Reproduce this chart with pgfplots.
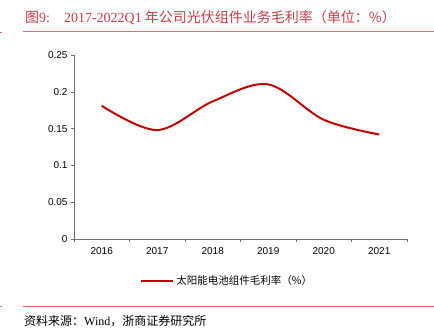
\documentclass[border=0pt]{standalone}
\usepackage{pgfplots}
\pgfplotsset{compat=1.18}
\usepackage{fontspec}
\setmainfont{Liberation Serif}
\newfontfamily\cjk{Noto Sans CJK SC}
\newfontfamily\arial{Liberation Sans}
\definecolor{titlered}{RGB}{200,60,70}
\definecolor{rulered}{RGB}{215,110,115}
\definecolor{linered}{RGB}{192,0,0}
\definecolor{axgray}{RGB}{110,110,110}
\begin{document}
\begin{tikzpicture}
\path[use as bounding box] (0pt,0pt) rectangle (434pt,336pt);
% title
\node[anchor=base west, inner sep=0, text=titlered, font=\fontsize{14}{16}\selectfont] at (25pt,313pt)
  {{\cjk 图}9:\hspace{14pt}2017-2022Q1\hspace{3pt}{\cjk 年公司光伏组件业务毛利率（单位：\%）}};
\draw[rulered, line width=1pt] (23pt,304pt) -- (434pt,304pt);
\draw[rulered, line width=0.8pt] (0pt,304pt) -- (2pt,304pt);
\draw[rulered, line width=0.8pt] (23pt,30pt) -- (434pt,30pt);
\draw[rulered, line width=0.8pt] (0pt,30pt) -- (2pt,30pt);
\node[anchor=base west, inner sep=0, font=\fontsize{12}{14}\selectfont] at (24pt,10pt)
  {{\cjk 资料来源：}Wind{\cjk ，浙商证券研究所}};
\begin{axis}[
  at={(74pt,97pt)}, anchor=south west,
  scale only axis, width=333pt, height=184pt,
  xmin=-0.5, xmax=5.5, ymin=0, ymax=0.25,
  xtick={0,1,2,3,4,5},
  xticklabels={2016,2017,2018,2019,2020,2021},
  minor xtick={-0.5,0.5,1.5,2.5,3.5,4.5,5.5},
  ytick={0,0.05,0.1,0.15,0.2,0.25},
  yticklabels={0,0.05,0.1,0.15,0.2,0.25},
  axis x line*=bottom, axis y line*=left,
  axis line style={axgray, -},
  tick align=outside,
  major tick length=3pt, minor tick length=3pt,
  xtick style={draw=none},
  minor x tick style={axgray, draw=axgray},
  y tick style={axgray},
  tick label style={font=\arial\fontsize{10}{12}\selectfont, text=black},
  xticklabel style={yshift=-2pt},
  legend style={at={(0.46,-0.175)}, anchor=north, draw=none, fill=none,
    font=\cjk\fontsize{10.5}{12}\selectfont},
  legend image code/.code={\draw[#1] (0pt,0pt) -- (32pt,0pt);},
  legend cell align=left,
  clip=false,
]
\addplot[linered, line width=2pt, smooth, tension=0.55] coordinates {
  (0,0.181) (1,0.148) (2,0.187) (3,0.210) (4,0.162) (5,0.142)
};
\addlegendentry{太阳能电池组件毛利率（\%）}
\end{axis}
\end{tikzpicture}
\end{document}
